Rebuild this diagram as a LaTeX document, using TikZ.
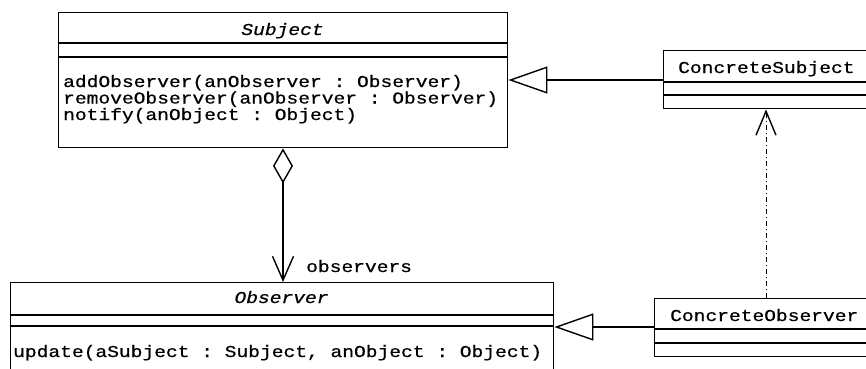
\documentclass[tikz,border=0pt]{standalone}
\usepackage{fontspec}
\setmonofont[FakeStretch=1.18, FakeBold=0.6]{Liberation Mono}
\usetikzlibrary{arrows.meta}
\tikzset{
  ln/.style={line width=1.4pt},
  classbox/.style={ln, draw, rectangle, inner sep=0pt, anchor=north west},
  txt/.style={font=\ttfamily\fontsize{16.6}{16.5}\selectfont, inner sep=0pt,
              text height=11pt, text depth=3pt},
  gen/.style={ln, -{Triangle[open, length=39pt, width=27pt, fill=white]}},
  aggr/.style={ln, {Diamond[open, length=35pt, width=20pt, fill=white]}-{Straight Barb[length=24pt, width=21pt]}},
  dep/.style={line width=1pt, dash pattern=on 5pt off 3pt on 1pt off 3pt, -{Straight Barb[length=24pt, width=20pt, line width=1.4pt]}},
}
\begin{document}
\begin{tikzpicture}[x=1pt, y=-1pt]
\clip (0,0) rectangle (866,368);
\fill[white] (0,0) rectangle (866,368);

% Subject
\node[classbox, minimum width=449pt, minimum height=135pt] (subject) at (58,12) {};
\draw[ln] (subject.west |- 0,43) -- (subject.east |- 0,43);
\draw[ln] (subject.west |- 0,57) -- (subject.east |- 0,57);
\node[txt, anchor=base] (subjectname) at (282.5,35) {\itshape Subject};
\node[txt, anchor=base west] (m1) at (63,87) {addObserver(anObserver : Observer)};
\node[txt, anchor=base west] (m2) at (63,103.5) {removeObserver(anObserver : Observer)};
\node[txt, anchor=base west] (m3) at (63,120) {notify(anObject : Object)};

% ConcreteSubject
\node[classbox, minimum width=230pt, minimum height=58pt] (csubject) at (663,50) {};
\draw[ln] (csubject.west |- 0,82) -- (csubject.east |- 0,82);
\draw[ln] (csubject.west |- 0,95) -- (csubject.east |- 0,95);
\node[txt, anchor=base west] (csubjectname) at (678,73) {ConcreteSubject};

% Observer
\node[classbox, minimum width=543pt, minimum height=100pt] (observer) at (10,282) {};
\draw[ln] (observer.west |- 0,315) -- (observer.east |- 0,315);
\draw[ln] (observer.west |- 0,326) -- (observer.east |- 0,326);
\node[txt, anchor=base] (observername) at (281.5,303) {\itshape Observer};
\node[txt, anchor=base west] (u1) at (13,357) {update(aSubject : Subject, anObject : Object)};

% ConcreteObserver
\node[classbox, minimum width=240pt, minimum height=58pt] (cobserver) at (654,298) {};
\draw[ln] (cobserver.west |- 0,329) -- (cobserver.east |- 0,329);
\draw[ln] (cobserver.west |- 0,343) -- (cobserver.east |- 0,343);
\node[txt, anchor=base west] (cobservername) at (670,321) {ConcreteObserver};

% Relations
\draw[gen] (csubject.west |- 0,80) -- (subject.east |- 0,80);
\draw[gen] (cobserver.west |- 0,327) -- (observer.east |- 0,327);
\coordinate (aggx) at (283,0);
\draw[aggr] (subject.south -| aggx) -- (observer.north -| aggx);
\node[txt, anchor=base west] (rolename) at (306,272) {observers};
\coordinate (depx) at (766,0);
\draw[dep] (cobserver.north -| depx) -- (csubject.south -| depx);
\end{tikzpicture}
\end{document}
